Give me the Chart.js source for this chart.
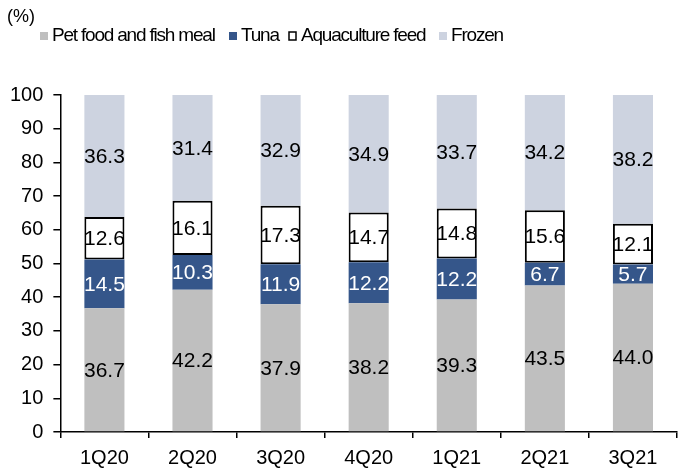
<!DOCTYPE html>
<html>
<head>
<meta charset="utf-8">
<script src="https://cdn.jsdelivr.net/npm/chart.js@4/dist/chart.umd.min.js"></script>
<style>
html,body{margin:0;padding:0;background:#fff;}
canvas{display:block;}
</style>
</head>
<body>
<canvas id="c" width="680" height="472"></canvas>
<script>
const categories = ['1Q20','2Q20','3Q20','4Q20','1Q21','2Q21','3Q21'];
const petFood = [36.7, 42.2, 37.9, 38.2, 39.3, 43.5, 44.0];
const tuna = [14.5, 10.3, 11.9, 12.2, 12.2, 6.7, 5.7];
const aquaFeed = [12.6, 16.1, 17.3, 14.7, 14.8, 15.6, 12.1];
const frozen = [36.3, 31.4, 32.9, 34.9, 33.7, 34.2, 38.2];
const seriesNames = ['Pet food and fish meal', 'Tuna', 'Aquaculture feed', 'Frozen'];
const yTicks = [0,10,20,30,40,50,60,70,80,90,100];

const FONT = 'Arial, "Liberation Sans", sans-serif';

const labelPlugin = {
  id: 'segLabels',
  afterDatasetsDraw(chart) {
    const ctx = chart.ctx;
    ctx.save();
    ctx.font = '21px ' + FONT;
    ctx.textAlign = 'center';
    ctx.textBaseline = 'middle';
    chart.data.datasets.forEach((ds, di) => {
      const meta = chart.getDatasetMeta(di);
      meta.data.forEach((bar, i) => {
        const v = ds.data[i];
        const top = Math.min(bar.y, bar.base), bot = Math.max(bar.y, bar.base);
        ctx.fillStyle = ds.labelColor;
        ctx.fillText(v.toFixed(1), bar.x, (top + bot) / 2 + 1);
      });
    });
    ctx.restore();
  }
};

const legendPlugin = {
  id: 'customLegend',
  afterDraw(chart) {
    const ctx = chart.ctx;
    ctx.save();
    ctx.fillStyle = '#000';
    ctx.font = '18px ' + FONT;
    ctx.textBaseline = 'middle';
    ctx.textAlign = 'left';
    ctx.fillText('(%)', 7, 17);
    ctx.font = '19px ' + FONT;
    if ('letterSpacing' in ctx) ctx.letterSpacing = '-1.2px';
    const starts = [40, 229, 289, 439];
    const cy = 36;
    chart.data.datasets.forEach((ds, i) => {
      const x = starts[i];
      if (ds.borderWidth) {
        ctx.fillStyle = '#fff';
        ctx.fillRect(x, cy - 4, 7, 8);
        ctx.strokeStyle = '#000';
        ctx.lineWidth = 1.5;
        ctx.strokeRect(x, cy - 4, 7, 8);
      } else {
        ctx.fillStyle = ds.backgroundColor;
        ctx.fillRect(x, cy - 4, 8, 8);
      }
      ctx.fillStyle = '#000';
      ctx.fillText(ds.label, x + 12, cy);
    });
    ctx.restore();
  }
};

new Chart(document.getElementById('c'), {
  type: 'bar',
  data: {
    labels: categories,
    datasets: [
      { label: seriesNames[0], data: petFood, backgroundColor: '#BFBFBF', labelColor: '#000', borderWidth: 0 },
      { label: seriesNames[1], data: tuna, backgroundColor: '#35568A', labelColor: '#fff', borderWidth: 0 },
      { label: seriesNames[2], data: aquaFeed, backgroundColor: '#FFFFFF', borderColor: '#000', borderWidth: 2, borderSkipped: false, labelColor: '#000' },
      { label: seriesNames[3], data: frozen, backgroundColor: '#CDD3E0', labelColor: '#000', borderWidth: 0 }
    ]
  },
  options: {
    responsive: false,
    animation: false,
    devicePixelRatio: 1,
    categoryPercentage: 1,
    barPercentage: 0.455,
    layout: { padding: { left: 0, right: 3, top: 95, bottom: -6 } },
    plugins: { legend: { display: false }, tooltip: { enabled: false } },
    scales: {
      x: {
        stacked: true,
        grid: { offset: true, drawOnChartArea: false, drawTicks: true, tickLength: 6, color: '#000', lineWidth: 1.5 },
        border: { color: '#000', width: 1.5 },
        ticks: { color: '#000', font: { size: 20, family: FONT }, padding: 8 }
      },
      y: {
        stacked: true,
        min: 0, max: 100,
        afterBuildTicks(axis) { axis.ticks = yTicks.map(v => ({ value: v })); },
        grid: { drawOnChartArea: false, drawTicks: true, tickLength: 7, color: '#000', lineWidth: 1.5 },
        border: { color: '#000', width: 1.5 },
        ticks: { color: '#000', font: { size: 20, family: FONT }, padding: 10 }
      }
    }
  },
  plugins: [labelPlugin, legendPlugin]
});
</script>
</body>
</html>
